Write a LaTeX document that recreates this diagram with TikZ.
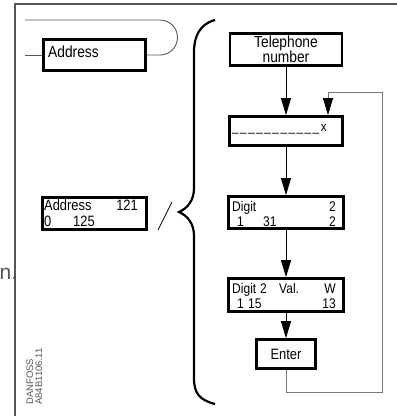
\documentclass[tikz,border=0pt]{standalone}
\usepackage{fontspec}
\usepackage{tikz}
\usetikzlibrary{arrows.meta}
\newfontfamily\lcdfont[FakeStretch=0.86]{Liberation Sans}
\newfontfamily\labfont{Liberation Sans}
\definecolor{rahmen}{RGB}{85,85,85}
\definecolor{rueck}{RGB}{120,120,120}
\newcommand\blank{\_\kern1.6pt}

\begin{document}
\begin{tikzpicture}[x=1pt,y=-1pt,
		lcd/.style={draw,line width=2.8pt,inner sep=0pt},
		adrfont/.style={font=\lcdfont\fontsize{15}{15}\selectfont},
		digfont/.style={font=\lcdfont\fontsize{14}{14}\selectfont},
		zeile/.style={inner sep=0pt,anchor=base west},
		zeiler/.style={inner sep=0pt,anchor=base east},
		pfeil/.style={-{Triangle[length=17pt,width=10pt]},line width=0.9pt},
		rueckpfeil/.style={draw=rueck,line width=0.9pt,-{Triangle[length=17pt,width=10pt,color=black]}}]
	\useasboundingbox (0,0) rectangle (397,416);

	% frame
	\draw[rahmen,line width=1.3pt] (15,416) -- (15,4) -- (397,4);
	\node[zeile,font=\labfont\fontsize{21}{21}\selectfont,text=rahmen] (rest) at (-0.5,279) {n.};
	\node[rotate=90,anchor=south west,align=left,inner sep=0pt,
		font=\labfont\fontsize{9.5}{9}\selectfont,text=rahmen] (code) at (42.5,405) {DANFOSS\\A84B1106.11};

	% left side
	\node[lcd,minimum width=102pt,minimum height=31pt] (addr) at (94.5,55) {};
	\node[zeile,font=\lcdfont\fontsize{16}{16}\selectfont] (addrtxt) at (48,57) {Address};
	\coordinate (links) at (25,55);
	\coordinate (oben) at (25,20);
	\draw[rahmen,line width=0.9pt] (links) -- (addr.west);
	\draw[rahmen,line width=0.9pt] (oben) -- (160,20) arc[start angle=-90,end angle=90,radius=17.5] -- (addr.east);

	\node[lcd,minimum width=104pt,minimum height=32pt] (anz) at (94.5,213.5) {};
	\node[zeile,adrfont] (anza) at (44,210.5) {Address};
	\node[zeiler,adrfont] (anzb) at (138,210.5) {121};
	\node[zeile,adrfont] (anzc) at (44,226) {0};
	\node[zeile,adrfont] (anzd) at (73,226) {125};
	\draw[line width=0.8pt] (158,230) -- (172,202);

	% brace
	\draw[line width=2.2pt] (215,20) .. controls (200,24) and (194,36) .. (194,52) -- (194,188)
		.. controls (194,200) and (188,208) .. (179,212)
		.. controls (188,216) and (194,224) .. (194,236) -- (194,378)
		.. controls (194,394) and (200,400) .. (215,404);

	% right column
	\node[lcd,minimum width=112pt,minimum height=32pt,align=center,
		font=\lcdfont\fontsize{16}{15.5}\selectfont] (tel) at (286,49.5) {Telephone\\number};
	\node[lcd,minimum width=113pt,minimum height=29pt] (entry) at (286,131) {};
	\node[zeile,font=\lcdfont\fontsize{13.5}{13.5}\selectfont] (entrytxt) at (232,131)
		{\blank\blank\blank\blank\blank\blank\blank\blank\blank\blank\blank x};

	\node[lcd,minimum width=115pt,minimum height=32pt] (digit) at (286,212.5) {};
	\node[zeile,digfont] (dga) at (232,211.5) {Digit};
	\node[zeiler,digfont] (dgb) at (336,211.5) {2};
	\node[zeile,digfont] (dgc) at (237,226) {1};
	\node[zeile,digfont] (dgd) at (263,226) {31};
	\node[zeiler,digfont] (dge) at (336,226) {2};

	\node[lcd,minimum width=115pt,minimum height=33pt] (digval) at (286,295) {};
	\node[zeile,digfont] (dva) at (232,293.5) {Digit};
	\node[zeile,digfont] (dvb) at (260,293.5) {2};
	\node[zeile,digfont] (dvc) at (279,293.5) {Val.};
	\node[zeiler,digfont] (dvd) at (336,293.5) {W};
	\node[zeile,digfont] (dve) at (237,308) {1};
	\node[zeile,digfont] (dvf) at (248,308) {15};
	\node[zeiler,digfont] (dvg) at (336,308) {13};

	\node[lcd,minimum width=59pt,minimum height=29pt,
		font=\lcdfont\fontsize{15}{15}\selectfont] (enter) at (286,354) {Enter};

	\draw[pfeil] (tel.south) -- (entry.north);
	\draw[pfeil] (entry.south) -- (digit.north);
	\draw[pfeil] (digit.south) -- (digval.north);
	\draw[pfeil] (digval.south) -- (enter.north);

	% loop back
	\coordinate (fbr) at (382,392);
	\coordinate (fbt) at (328,92);
	\draw[rueckpfeil] (enter.south) |- (fbr) |- (fbt) -- (fbt |- entry.north);
\end{tikzpicture}
\end{document}
